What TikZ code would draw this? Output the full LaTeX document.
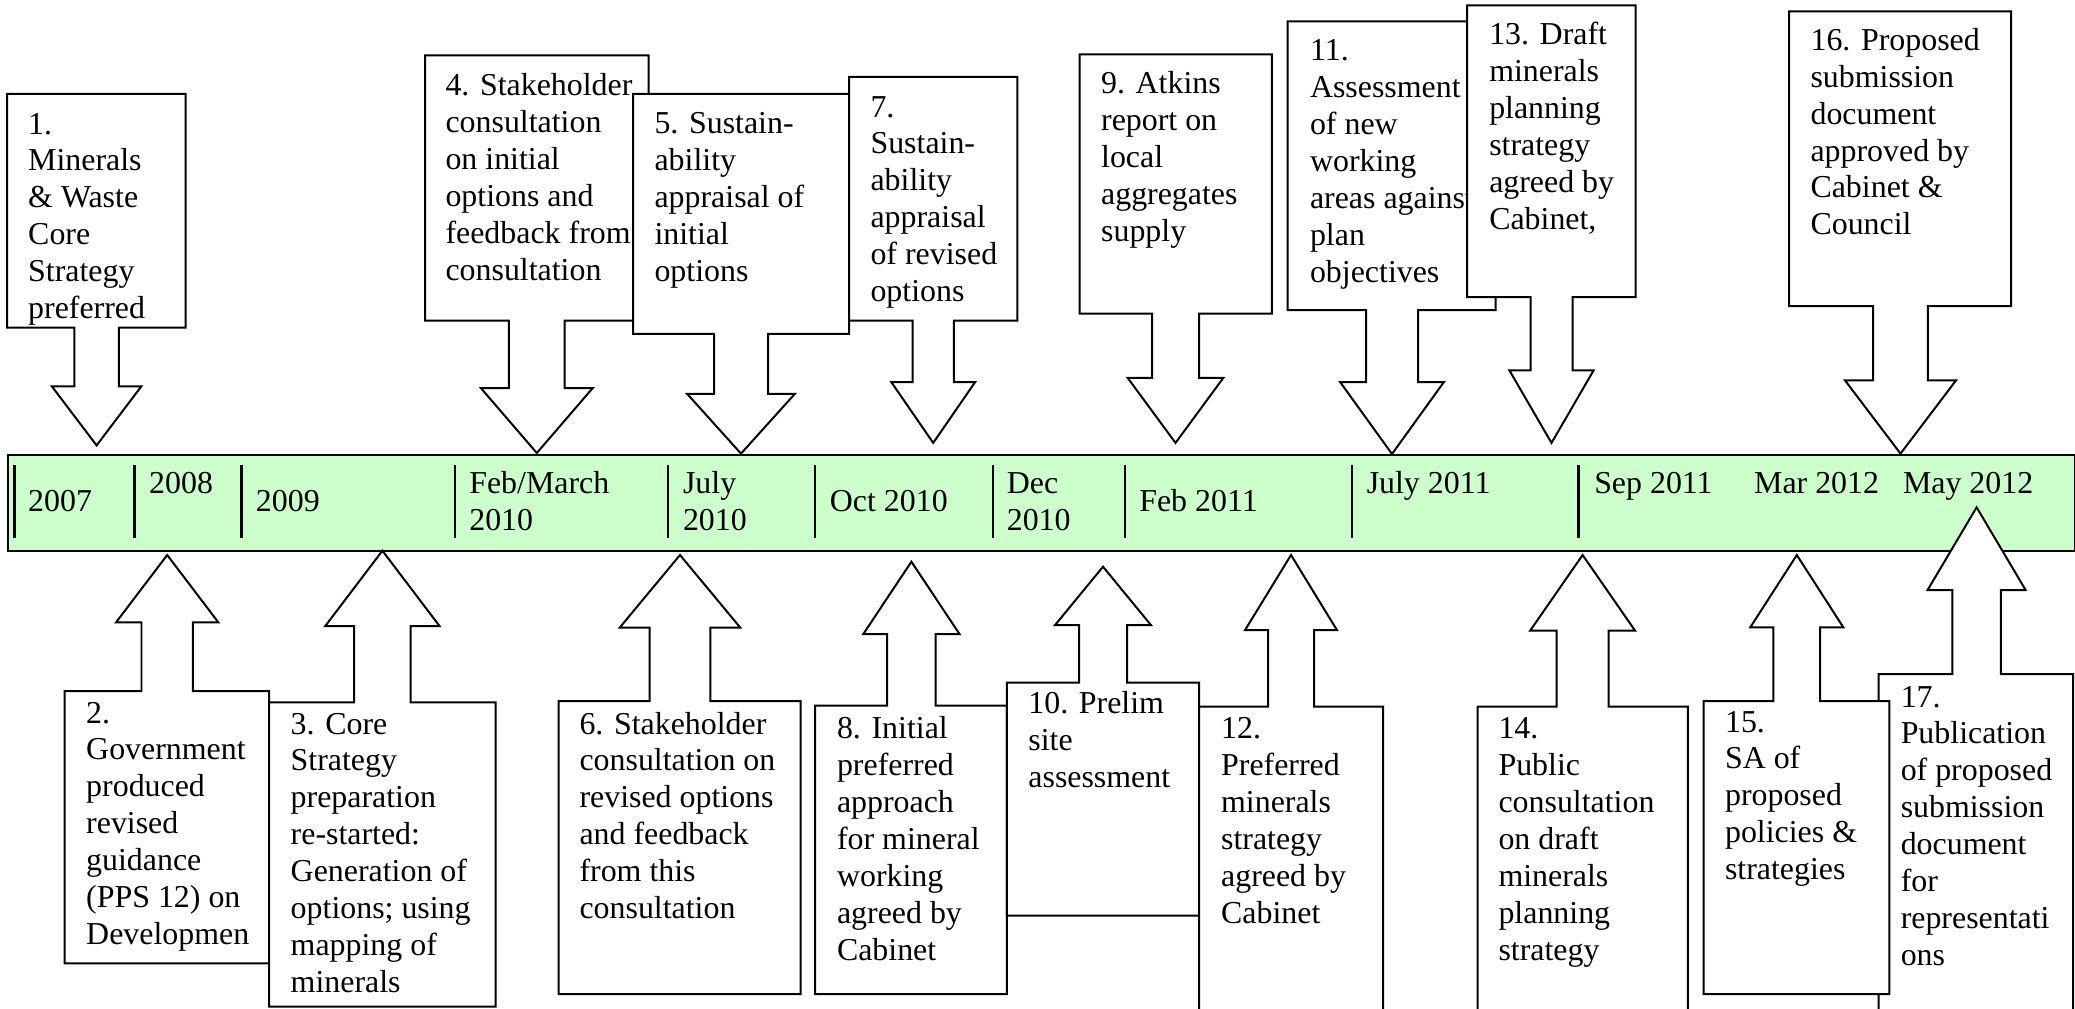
\documentclass[tikz,border=0pt]{standalone}
\usepackage{fontspec}
\setmainfont{Liberation Serif}
\definecolor{bandgreen}{HTML}{CCFFCC}
\newcommand{\txtlines}[1]{\begin{tabular}[t]{@{}l@{}}#1\end{tabular}}
% callout: {L}{far edge y}{R}{near edge y}{cx}{shaft half}{head y}{wing half}{tip y}
\newcommand{\callout}[9]{%
  \filldraw[cbox] (#1,#2) -- (#3,#2) -- (#3,#4) -- (#5+#6,#4) -- (#5+#6,#7) -- (#5+#8,#7)
    -- (#5,#9) -- (#5-#8,#7) -- (#5-#6,#7) -- (#5-#6,#4) -- (#1,#4) -- cycle;}
\tikzset{
  cbox/.style={draw=black, fill=white, line width=0.75pt, line join=miter},
  ctext/.style={anchor=base west, inner sep=0pt, font=\fontsize{12}{13.9}\selectfont},
  datelbl/.style={anchor=base west, inner sep=0pt, font=\fontsize{12}{13.9}\selectfont},
  divider/.style={line width=1pt},
}
\begin{document}
\begin{tikzpicture}[x=0.3762pt,y=-0.3762pt]
\useasboundingbox (0,0) rectangle (2075,1008);
\clip (0,0) rectangle (2075,1008);
% timeline band
\node[draw=black, fill=bandgreen, line width=0.75pt, inner sep=0pt, minimum width=2066.6*0.3762pt, minimum height=96.8*0.3762pt, anchor=north west] (band) at (6.9,453.6) {};
\foreach \xx in {14.2,134.8,241.5,454.9,667.9,815,993,1125,1352,1578.4}
  \draw[divider] (\xx,465) -- (\xx,538.2);
\node[datelbl] (d2007) at (27.7,511.4) {2007};
\node[datelbl] (d2008) at (148.7,493.4) {2008};
\node[datelbl] (d2009) at (255.4,511.4) {2009};
\node[datelbl] (d2010a) at (468.8,493.4) {\txtlines{Feb/March\\2010}};
\node[datelbl] (d2010b) at (682.5,493.4) {\txtlines{July\\2010}};
\node[datelbl] (d2010c) at (829.4,511.4) {Oct 2010};
\node[datelbl] (d2010d) at (1006.3,493.4) {\txtlines{Dec\\2010}};
\node[datelbl] (d2011a) at (1138.8,511.4) {Feb 2011};
\node[datelbl] (d2011b) at (1366.2,493.4) {July 2011};
\node[datelbl] (d2011c) at (1593.7,493.4) {Sep 2011};
\node[datelbl] (d2012a) at (1753.6,493.4) {Mar 2012};
\node[datelbl] (d2012b) at (1902.5,493.4) {May 2012};
% downward callouts
\callout{7.1}{93.9}{185.7}{327.5}{96.6}{22.3}{386.4}{44.7}{445.4}
\node[ctext] (t1) at (27.7,134) {\txtlines{1.\\Minerals\\\& Waste\\Core\\Strategy\\preferred}};
\callout{425}{55.4}{648.7}{320.7}{536.8}{27.9}{388.2}{55.8}{453}
\node[ctext] (t4) at (445,95.4) {\txtlines{4. Stakeholder\\consultation\\on initial\\options and\\feedback from\\consultation}};
\callout{633}{93.9}{849}{333.9}{741}{27}{393.9}{53.8}{453.6}
\node[ctext] (t5) at (654,133.5) {\txtlines{5. Sustain-\\ability\\appraisal of\\initial\\options}};
\callout{849}{76.8}{1017.3}{320.7}{933.2}{20.6}{382.1}{41.9}{442.9}
\node[ctext] (t7) at (870,117) {\txtlines{7.\\Sustain-\\ability\\appraisal\\of revised\\options}};
\callout{1079.5}{54.3}{1271.8}{313.6}{1175.5}{23.5}{377.9}{47.8}{442.9}
\node[ctext] (t9) at (1100.6,93.8) {\txtlines{9. Atkins\\report on\\local\\aggregates\\supply}};
\callout{1287.6}{21.4}{1495.6}{310}{1392}{26}{382}{51.9}{454}
\node[ctext] (t11) at (1309.5,60.7) {\txtlines{11.\\Assessment\\of new\\working\\areas against\\plan\\objectives}};
\callout{1467}{5.4}{1635.7}{297.1}{1551.5}{21}{370.4}{42.1}{442.9}
\node[ctext] (t13) at (1488.7,44.8) {\txtlines{13. Draft\\minerals\\planning\\strategy\\agreed by\\Cabinet,}};
\callout{1789.2}{11.4}{2011.2}{306}{1900.5}{27.3}{380.4}{55.5}{453.6}
\node[ctext] (t16) at (1810,50.2) {\txtlines{16. Proposed\\submission\\document\\approved by\\Cabinet \&\\Council}};
% upward callouts
\callout{64.7}{963.3}{269.2}{691}{167.2}{25.7}{622.3}{51.1}{555}
\node[ctext] (t2) at (85.7,723) {\txtlines{2.\\Government\\produced\\revised\\guidance\\(PPS 12) on\\Developmen}};
\callout{269.2}{1006.7}{495.5}{702.3}{382.4}{28.3}{626}{57.1}{550.7}
\node[ctext] (t3) at (290.2,734) {\txtlines{3. Core\\Strategy\\preparation\\re-started:\\Generation of\\options; using\\mapping of\\minerals}};
\callout{558.5}{994}{800.7}{701}{680}{30.4}{627.5}{60.2}{555}
\node[ctext] (t6) at (579,734) {\txtlines{6. Stakeholder\\consultation on\\revised options\\and feedback\\from this\\consultation}};
\callout{815}{994}{1006.8}{705.7}{911.4}{24.2}{634}{48.1}{561.7}
\node[ctext] (t8) at (836.5,738.5) {\txtlines{8. Initial\\preferred\\approach\\for mineral\\working\\agreed by\\Cabinet}};
\callout{1006.8}{915.7}{1199.1}{682.7}{1103}{24}{625}{47.9}{566.7}
\node[ctext] (t10) at (1027.9,713.5) {\txtlines{10. Prelim\\site\\assessment}};
\callout{1199.1}{1030}{1383.2}{706.7}{1291}{23}{630}{45.9}{555}
\node[ctext] (t12) at (1220.6,738.5) {\txtlines{12.\\Preferred\\minerals\\strategy\\agreed by\\Cabinet}};
\callout{1477.6}{1030}{1687.8}{706.7}{1582.6}{25.9}{630.7}{52.5}{555}
\node[ctext] (t14) at (1498,738.5) {\txtlines{14.\\Public\\consultation\\on draft\\minerals\\planning\\strategy}};
\callout{1878.6}{1030}{2073}{674}{1976.6}{24.3}{590}{49}{507.3}
\node[ctext] (t17) at (1900.2,707) {\txtlines{17.\\Publication\\of proposed\\submission\\document\\for\\representati\\ons}};
\callout{1703.5}{994}{1889.3}{701}{1796.8}{23.4}{627.3}{46.5}{555}
\node[ctext] (t15) at (1724.5,732) {\txtlines{15.\\SA of\\proposed\\policies \&\\strategies}};
\end{tikzpicture}
\end{document}
